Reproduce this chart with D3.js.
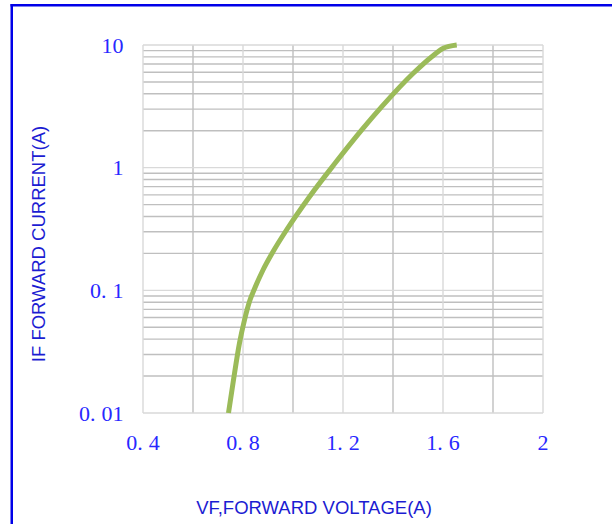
<!DOCTYPE html>
<html>
<head>
<meta charset="utf-8">
<script src="https://cdn.jsdelivr.net/npm/d3@7/dist/d3.min.js"></script>
<style>
  html, body { margin: 0; padding: 0; background: #ffffff; }
  svg { display: block; }
</style>
</head>
<body>
<svg id="chart" width="612" height="524"></svg>
<script>
// ---- data ----
const voltage = [0.742, 0.762, 0.786, 0.806, 0.828, 0.844, 0.880, 0.924, 0.974, 1.066, 1.168, 1.275, 1.355, 1.481, 1.555, 1.601, 1.655];
const current = [0.01, 0.0186, 0.0372, 0.0573, 0.0834, 0.1006, 0.1465, 0.2132, 0.3103, 0.58, 1.085, 2.03, 3.14, 5.88, 8.03, 9.4, 10];
const xTicks = [0.4, 0.8, 1.2, 1.6, 2];
const xMinorTicks = [0.6, 1.0, 1.4, 1.8];
const yTicks = [0.01, 0.1, 1, 10];
const xTitle = "VF,FORWARD VOLTAGE(A)";
const yTitle = "IF FORWARD CURRENT(A)";

const svg = d3.select("#chart");

// frame (blue partial border)
svg.append("rect").attr("x", 10.5).attr("y", 4).attr("width", 612).attr("height", 2.5).attr("fill", "#0000e8");
svg.append("rect").attr("x", 10.5).attr("y", 4).attr("width", 2.5).attr("height", 524).attr("fill", "#0000e8");

const x = d3.scaleLinear().domain([0.4, 2]).range([143, 543]);
const y = d3.scaleLog().domain([0.01, 10]).range([413, 45]);

const gMinor = "#bfbfbf", gMajor = "#d9d9d9", gW = 1.4;

// minor horizontal lines (2..9 in each decade)
const yMinor = [];
for (let d = 0.01; d < 10; d *= 10) {
  for (let k = 2; k <= 9; k++) yMinor.push(+(d * k).toPrecision(3));
}
svg.append("g").selectAll("line").data(yMinor).join("line")
  .attr("x1", x(0.4)).attr("x2", x(2))
  .attr("y1", d => y(d)).attr("y2", d => y(d))
  .attr("stroke", gMinor).attr("stroke-width", gW);

// minor vertical lines
svg.append("g").selectAll("line").data(xMinorTicks).join("line")
  .attr("x1", d => x(d)).attr("x2", d => x(d))
  .attr("y1", y(0.01)).attr("y2", y(10))
  .attr("stroke", gMinor).attr("stroke-width", gW);

// major horizontal lines
svg.append("g").selectAll("line").data(yTicks).join("line")
  .attr("x1", x(0.4)).attr("x2", x(2))
  .attr("y1", d => y(d)).attr("y2", d => y(d))
  .attr("stroke", gMajor).attr("stroke-width", gW);

// major vertical lines
svg.append("g").selectAll("line").data(xTicks).join("line")
  .attr("x1", d => x(d)).attr("x2", d => x(d))
  .attr("y1", y(0.01)).attr("y2", y(10))
  .attr("stroke", gMajor).attr("stroke-width", gW);

// curve
const line = d3.line()
  .x((d, i) => x(voltage[i]))
  .y((d, i) => y(current[i]))
  .curve(d3.curveMonotoneX);
svg.append("path")
  .attr("d", line(voltage))
  .attr("fill", "none")
  .attr("stroke", "#9bbb59")
  .attr("stroke-width", 5)
  .attr("stroke-linecap", "butt");

// tick labels
const tickColor = "#2828ff";
function labelText(sel, s) {
  const parts = s.split(".");
  if (parts.length === 1) { sel.text(s); return; }
  sel.append("tspan").text(parts[0] + ".");
  sel.append("tspan").attr("dx", 6).text(parts[1]);
}
const fmt = d => String(d);

const yl = svg.append("g").attr("font-family", "'Liberation Serif', serif").attr("font-size", 22).attr("fill", tickColor);
yTicks.forEach(t => {
  const tx = yl.append("text")
    .attr("x", 123.5).attr("y", y(t) + 7.5)
    .attr("text-anchor", "end");
  labelText(tx, fmt(t));
});

const xl = svg.append("g").attr("font-family", "'Liberation Serif', serif").attr("font-size", 22).attr("fill", tickColor);
xTicks.forEach(t => {
  const tx = xl.append("text")
    .attr("x", x(t)).attr("y", 450)
    .attr("text-anchor", "middle");
  labelText(tx, fmt(t));
});

// axis titles
const titleColor = "#1c1cd2";
svg.append("text")
  .attr("x", 314).attr("y", 514)
  .attr("text-anchor", "middle")
  .attr("font-family", "'Liberation Sans', Arial, sans-serif")
  .attr("font-size", 18.5)
  .attr("fill", titleColor)
  .text(xTitle);

svg.append("text")
  .attr("transform", "translate(44.5,244) rotate(-90)")
  .attr("text-anchor", "middle")
  .attr("font-family", "'Liberation Sans', Arial, sans-serif")
  .attr("font-size", 18.5)
  .attr("fill", titleColor)
  .text(yTitle);
</script>
</body>
</html>
